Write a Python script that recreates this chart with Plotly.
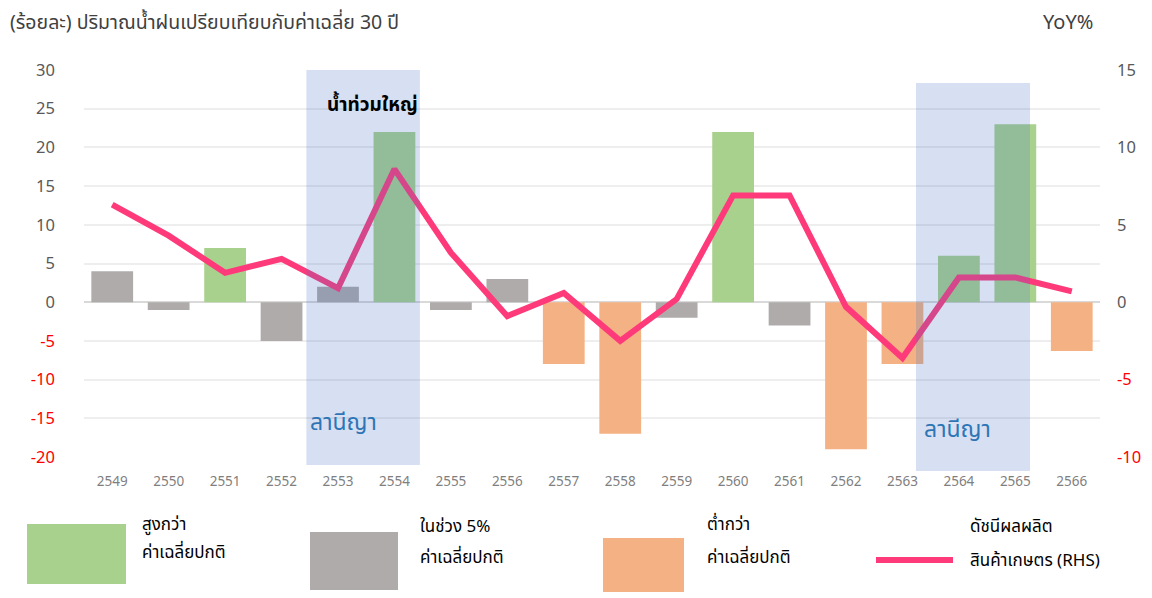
import plotly.graph_objects as go

years = [str(y) for y in range(2549, 2567)]
rain_dev = [4, -1, 7, -5, 2, 22, -1, 3, -8, -17, -2, 22, -3, -19, -8, 6, 23, -6.3]
rain_class = ["normal", "normal", "above", "normal", "normal", "above", "normal", "normal",
              "below", "below", "normal", "above", "normal", "below", "below", "above",
              "above", "below"]
agri_index = [6.3, 4.3, 1.9, 2.8, 0.9, 8.6, 3.2, -0.9, 0.6, -2.5, 0.2, 6.9, 6.9, -0.3,
              -3.6, 1.6, 1.6, 0.7]
left_ticks = [30, 25, 20, 15, 10, 5, 0, -5, -10, -15, -20]
right_ticks = [15, 10, 5, 0, -5, -10]

class_colors = {"above": "#A9D18E", "normal": "#AFABAB", "below": "#F4B183"}
LINE_COLOR = "#FF3A7A"
FONT = "Noto Sans Thai, Tahoma, Leelawadee UI, Noto Sans, sans-serif"

OFF = 8  # page body margin
W, H = 1152 - OFF, 598 - OFF
# plot area in screen pixels
L, R, T, B = 84, 1100, 70, 457


def px(x):
    return (x - L) / (R - L)


def py(y):
    return (B - y) / (B - T)


def tick_text(v):
    if v < 0:
        return f'<span style="color:#FF0000">{v}</span>'
    return str(v)


fig = go.Figure()
fig.add_trace(go.Bar(
    x=years, y=rain_dev,
    marker=dict(color=[class_colors[c] for c in rain_class], line=dict(width=0)),
    showlegend=False, yaxis="y"))
fig.add_trace(go.Scatter(
    x=years, y=agri_index, mode="lines",
    line=dict(color=LINE_COLOR, width=6), showlegend=False, yaxis="y2"))

shapes = []
# La Nina shading
for x0, x1, y0, y1 in [(3.44, 5.45, 70, 465), (14.24, 16.26, 83, 471)]:
    shapes.append(dict(type="rect", xref="x", yref="paper", x0=x0, x1=x1,
                       y0=py(y1), y1=py(y0), fillcolor="rgba(68,114,196,0.22)",
                       line=dict(width=0), layer="above"))

# custom legend
legend_boxes = [(27, 126, 524, 584, class_colors["above"]),
                (310, 398, 532, 590, class_colors["normal"]),
                (603, 684, 538, 592, class_colors["below"])]
for x0, x1, y0, y1, c in legend_boxes:
    shapes.append(dict(type="rect", xref="paper", yref="paper", x0=px(x0), x1=px(x1),
                       y0=py(y1), y1=py(y0), fillcolor=c, line=dict(width=0)))
shapes.append(dict(type="line", xref="paper", yref="paper", x0=px(876), x1=px(953),
                   y0=py(560), y1=py(560), line=dict(color=LINE_COLOR, width=6)))

annotations = []


def text(x, y, s, size=17, color="#000000", anchor="left", bold=False):
    if bold:
        s = f"<b>{s}</b>"
    annotations.append(dict(xref="paper", yref="paper", x=px(x), y=py(y), text=s,
                            showarrow=False, xanchor=anchor, yanchor="middle",
                            font=dict(size=size, color=color, family=FONT)))


text(8, 23, "(ร้อยละ) ปริมาณน้ำฝนเปรียบเทียบกับค่าเฉลี่ย 30 ปี", 19.5, "#404040")
text(1095, 23, "YoY%", 20, "#404040", anchor="right")
text(372, 105, "น้ำท่วมใหญ่", 19, "#000000", anchor="center", bold=True)
text(343, 423, "ลานีญา", 23, "#2E75B6", anchor="center")
text(957, 430, "ลานีญา", 23, "#2E75B6", anchor="center")
text(140, 525, "สูงกว่า")
text(140, 553, "ค่าเฉลี่ยปกติ")
text(418, 527, "ในช่วง 5%")
text(418, 558, "ค่าเฉลี่ยปกติ")
text(705, 525, "ต่ำกว่า")
text(705, 558, "ค่าเฉลี่ยปกติ")
text(968, 527, "ดัชนีผลผลิต")
text(968, 561, "สินค้าเกษตร (RHS)")

fig.update_layout(
    width=W, height=H,
    margin=dict(l=L - OFF, r=W + OFF - R, t=T - OFF, b=H + OFF - B, pad=0),
    paper_bgcolor="white", plot_bgcolor="white",
    font=dict(family=FONT, color="#595959"),
    bargap=0.26,
    xaxis=dict(type="category", showgrid=False, ticks="", showline=False,
               tickfont=dict(size=13.5, color="#7F7F7F"), ticklabelstandoff=14),
    yaxis=dict(range=[-20, 30], tickvals=left_ticks, ticktext=[tick_text(v) for v in left_ticks],
               showgrid=True, gridcolor="#EEEEEE", gridwidth=1.5, zeroline=True,
               zerolinecolor="#D9D9D9", zerolinewidth=2, ticks="",
               tickfont=dict(size=16.5, color="#595959"), ticklabelstandoff=28),
    yaxis2=dict(range=[-10, 15], overlaying="y", side="right", tickvals=right_ticks,
                ticktext=[tick_text(v) for v in right_ticks], showgrid=False,
                zeroline=False, ticks="", tickfont=dict(size=16.5, color="#595959"),
                ticklabelstandoff=16),
    shapes=shapes, annotations=annotations,
)

fig.write_html("out.html")
